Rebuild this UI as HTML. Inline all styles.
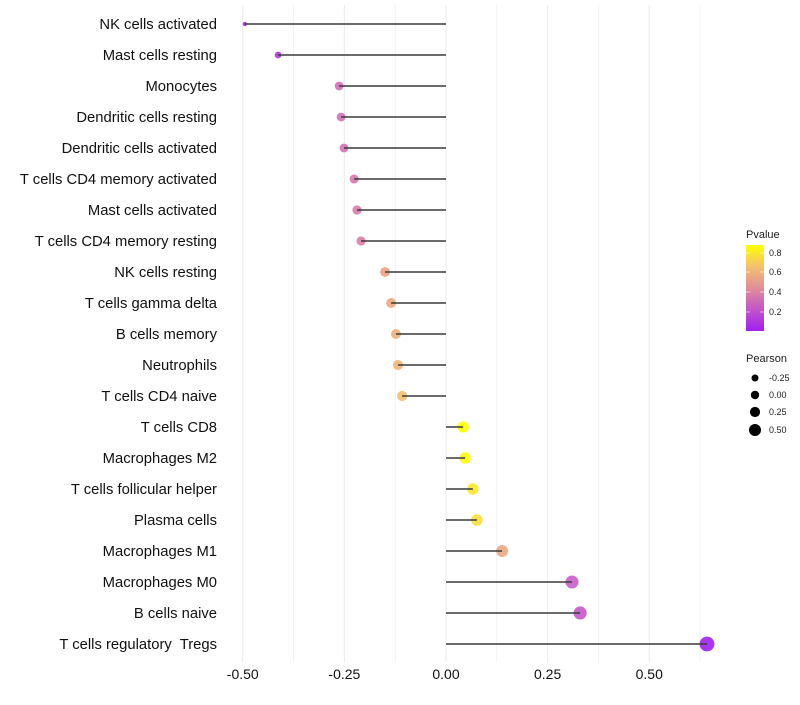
<!DOCTYPE html>
<html><head><meta charset="utf-8"><style>
body{margin:0;background:#fff;font-family:"Liberation Sans",sans-serif}
text{white-space:pre}
</style></head><body>
<svg id="chart" width="800" height="700" xmlns="http://www.w3.org/2000/svg">
<defs><linearGradient id="pgrad" x1="0" y1="1" x2="0" y2="0">
<stop offset="0" stop-color="#a020f0"/><stop offset="0.3" stop-color="#c860c0"/><stop offset="0.5" stop-color="#e08e98"/><stop offset="0.75" stop-color="#f4c070"/><stop offset="1" stop-color="#ffff00"/>
</linearGradient></defs>
</svg>
<script>
const categories=["NK cells activated","Mast cells resting","Monocytes","Dendritic cells resting","Dendritic cells activated","T cells CD4 memory activated","Mast cells activated","T cells CD4 memory resting","NK cells resting","T cells gamma delta","B cells memory","Neutrophils","T cells CD4 naive","T cells CD8","Macrophages M2","T cells follicular helper","Plasma cells","Macrophages M1","Macrophages M0","B cells naive","T cells regulatory  Tregs"];
const pearson=[-0.495,-0.413,-0.263,-0.258,-0.251,-0.226,-0.219,-0.209,-0.150,-0.135,-0.123,-0.118,-0.108,0.042,0.047,0.066,0.076,0.138,0.310,0.330,0.642];
const pvalues=[0.02,0.06,0.27,0.28,0.29,0.33,0.34,0.37,0.52,0.55,0.58,0.60,0.64,0.86,0.84,0.78,0.75,0.55,0.2,0.18,0.001];
const xTicks=[-0.5,-0.25,0,0.25,0.5];
const xTickLabels=["-0.50","-0.25","0.00","0.25","0.50"];
const NS="http://www.w3.org/2000/svg";
const svg=document.getElementById('chart');
const x=v=>446+v*406.5;
const y=i=>24+i*31;
function mk(t,a,p){const e=document.createElementNS(NS,t);for(const k in a)e.setAttribute(k,a[k]);(p||svg).appendChild(e);return e;}
function hex(c){return c.map(v=>Math.round(v).toString(16).padStart(2,'0')).join('');}
const stops=[[0,[160,32,240]],[0.22,[205,100,195]],[0.4,[220,135,160]],[0.65,[244,192,112]],[0.86,[255,255,0]]];
function pcol(p){p=Math.max(0,Math.min(0.86,p));for(let i=1;i<stops.length;i++){if(p<=stops[i][0]){const a=stops[i-1],b=stops[i],t=(p-a[0])/(b[0]-a[0]);return '#'+hex(a[1].map((v,k)=>v+(b[1][k]-v)*t));}}return '#ffff00';}
const rad=r=>1.8+5.6*Math.sqrt(Math.max(0,(r+0.5)/1.14));
for(let v=-0.5;v<=0.65;v+=0.125){const g=mk('line',{x1:x(v),x2:x(v),y1:5,y2:662,stroke:'#ebebeb','stroke-width':Math.abs(v*4-Math.round(v*4))<1e-6?1:0.6});}
xTicks.forEach((v,i)=>{const t=mk('text',{x:x(v),y:679,'text-anchor':'middle','font-size':14,fill:'#111'});t.textContent=xTickLabels[i];});
categories.forEach((c,i)=>{
 const t=mk('text',{x:217,y:y(i)+5,'text-anchor':'end','font-size':14.8,fill:'#111'});t.textContent=c;
 
 const d=mk('circle',{cx:x(pearson[i]),cy:y(i),r:rad(pearson[i]),fill:pcol(pvalues[i]),'fill-opacity':0.9});
 
 const l=mk('line',{x1:x(0),x2:x(pearson[i]),y1:y(i),y2:y(i),stroke:'#3a3a3a','stroke-width':1.4});
 
});
let t=mk('text',{x:746,y:238,'font-size':11,fill:'#222'});t.textContent='Pvalue';
let b=mk('rect',{x:746,y:245,width:18,height:86,fill:'url(#pgrad)'});
[[0.8,253],[0.6,272],[0.4,292],[0.2,312]].forEach(a=>{const e=mk('text',{x:769,y:a[1]+3,'font-size':9,fill:'#222'});e.textContent=a[0].toFixed(1);
 mk('line',{x1:746,x2:750,y1:a[1],y2:a[1],stroke:'#fff','stroke-opacity':0.6});mk('line',{x1:760,x2:764,y1:a[1],y2:a[1],stroke:'#fff','stroke-opacity':0.6});});
t=mk('text',{x:746,y:362,'font-size':11,fill:'#222'});t.textContent='Pearson';
[[-0.25,378,3.5],[0,395,4.2],[0.25,412,5.1],[0.5,430,6]].forEach(a=>{const c=mk('circle',{cx:755,cy:a[1],r:a[2],fill:'#000'});
 const e=mk('text',{x:769,y:a[1]+3,'font-size':9,fill:'#222'});e.textContent=a[0].toFixed(2);});
</script>
</body></html>
